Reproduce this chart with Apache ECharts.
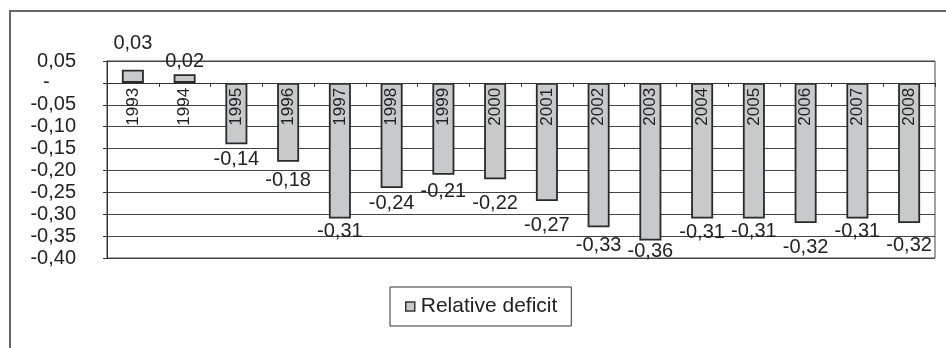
<!DOCTYPE html>
<html>
<head>
<meta charset="utf-8">
<script src="https://cdn.jsdelivr.net/npm/echarts@6/dist/echarts.min.js"></script>
<style>
  html, body { margin: 0; padding: 0; background: #fff; }
  #chart { width: 946px; height: 348px; }
</style>
</head>
<body>
<div id="chart"></div>
<script>
// years and relative deficit values
var years = ['1993', '1994', '1995', '1996', '1997', '1998', '1999', '2000',
	'2001', '2002', '2003', '2004', '2005', '2006', '2007', '2008'];
var deficit = [0.03, 0.02, -0.14, -0.18, -0.31, -0.24, -0.21, -0.22,
	-0.27, -0.33, -0.36, -0.31, -0.31, -0.32, -0.31, -0.32];
// extra label distance (px) so the labels sit where the original has them
var labelShift = [13, 0, 2, 6, 0, 3, 4, 11, 11, 5, -2, 1, 0, 12, 0, 10];

var yMin = -0.40, yMax = 0.05;
var gridTop = 61, gridBottom = 90, chartH = 348;

function fmt(v) {
	if (Math.abs(v) < 1e-9) return '{z|-}';
	return v.toFixed(2).replace('.', ',');
}

var chart = echarts.init(document.getElementById('chart'));

var barData = deficit.map(function (v, i) {
	var d = labelShift[i];
	return {
		value: v,
		label: { offset: [0, v >= 0 ? -d : d] }
	};
});

// move the category axis up to the zero line
var plotH = chartH - gridTop - gridBottom;
var zeroOffset = -plotH * (0 - yMin) / (yMax - yMin);

var option = {
	animation: false,
	textStyle: { fontFamily: 'Arial, "Liberation Sans", sans-serif', color: '#222' },
	graphic: [{
		type: 'rect',
		shape: { x: 10, y: 11, width: 1000, height: 400 },
		style: { fill: 'none', stroke: '#666', lineWidth: 2 },
		silent: true
	}],
	legend: {
		left: 390,
		top: 287,
		padding: [9, 14, 9, 15],
		borderColor: '#333',
		borderWidth: 1,
		itemWidth: 9,
		itemHeight: 9,
		itemGap: 5,
		icon: 'rect',
		itemStyle: { color: '#c8c9cb', borderColor: '#333', borderWidth: 1.5 },
		textStyle: { fontSize: 21, color: '#222', lineHeight: 18, padding: [0, 0, 0, 1] },
		data: ['Relative deficit']
	},
	grid: {
		left: 107,
		right: 11,
		top: gridTop,
		bottom: gridBottom,
		show: true,
		borderColor: '#444',
		borderWidth: 1,
		containLabel: false
	},
	xAxis: {
		type: 'category',
		data: years,
		z: 5,
		offset: zeroOffset,
		axisLine: { onZero: false, lineStyle: { color: '#333', width: 1 } },
		axisTick: { show: true, length: 4, lineStyle: { color: '#333' } },
		axisLabel: {
			rotate: 90,
			margin: 5,
			fontSize: 17,
			color: '#222',
			interval: 0
		}
	},
	yAxis: {
		type: 'value',
		min: yMin,
		max: yMax,
		interval: 0.05,
		axisLine: { show: true, lineStyle: { color: '#333' } },
		axisTick: { show: true, length: 4, lineStyle: { color: '#333' } },
		splitLine: { show: true, lineStyle: { color: '#444', width: 1 } },
		axisLabel: {
			margin: 31,
			fontSize: 20,
			color: '#222',
			formatter: fmt,
			rich: { z: { fontSize: 20, color: '#222', width: 33, align: 'left' } }
		}
	},
	series: [{
		name: 'Relative deficit',
		type: 'bar',
		barWidth: 22,
		itemStyle: { color: '#c8c9cb', borderColor: '#2a2a2a', borderWidth: 1.8 },
		label: {
			show: true,
			position: 'outside',
			distance: 3,
			fontSize: 20,
			color: '#222',
			formatter: function (p) { return p.value.toFixed(2).replace('.', ','); }
		},
		data: barData
	}]
};

chart.setOption(option);
</script>
</body>
</html>
